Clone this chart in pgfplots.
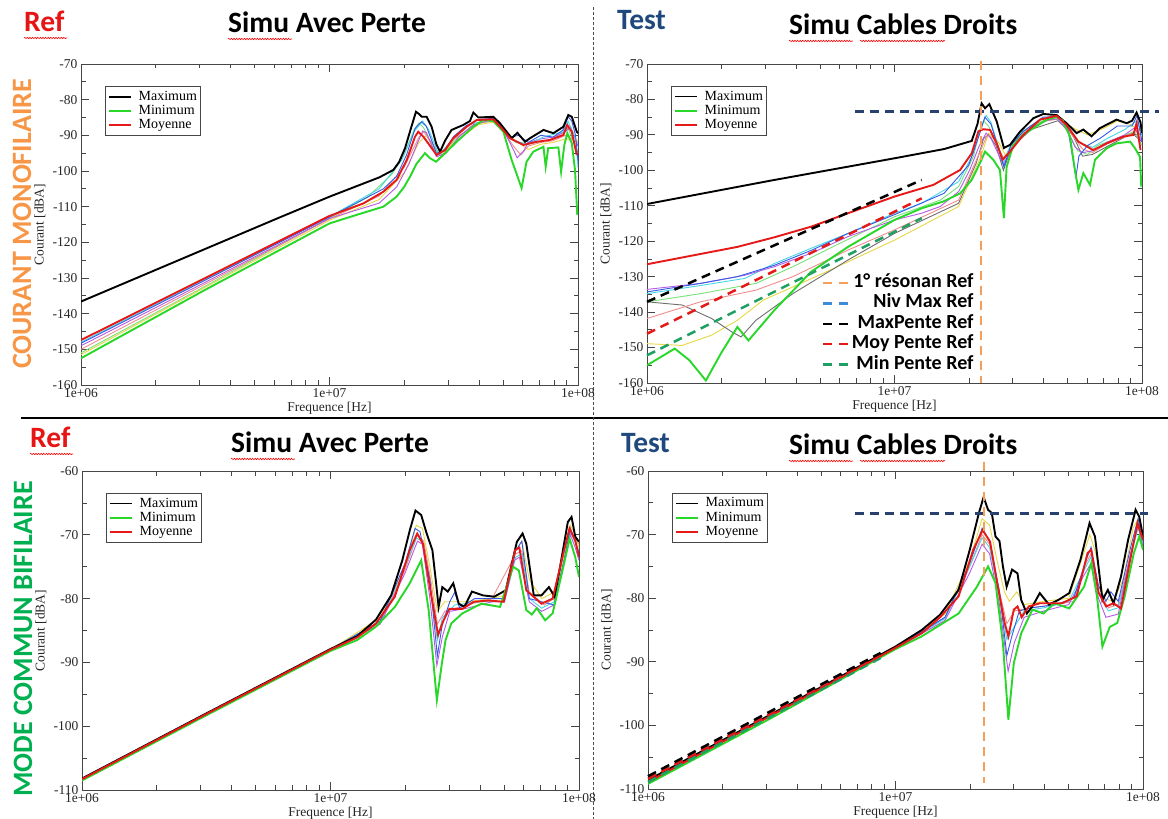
\documentclass[border=0pt]{standalone}
\usepackage{pgfplots}
\pgfplotsset{compat=1.18}
\usepackage{fontspec}
\setmainfont{Liberation Serif}
\newfontfamily\calibri{Carlito}
\usetikzlibrary{decorations.pathmorphing}

\definecolor{xgreen}{RGB}{40,215,40}
\definecolor{xred}{RGB}{230,25,25}
\definecolor{reftxt}{RGB}{230,20,20}
\definecolor{testblue}{RGB}{31,73,125}
\definecolor{orangeT}{RGB}{247,150,70}
\definecolor{greenT}{RGB}{0,176,80}
\definecolor{refor}{RGB}{245,160,90}
\definecolor{navy}{RGB}{40,65,110}
\definecolor{keyblue}{RGB}{60,140,215}
\definecolor{mingreen}{RGB}{30,160,100}
\definecolor{tblue}{RGB}{50,90,230}
\definecolor{tcyan}{RGB}{70,215,230}
\definecolor{tviolet}{RGB}{180,90,230}
\definecolor{tpink}{RGB}{240,140,140}
\definecolor{tyellow}{RGB}{230,215,70}
\definecolor{tlgreen}{RGB}{120,225,120}
\definecolor{tgray}{RGB}{110,110,110}

\pgfplotsset{
 xm/.style={
  scale only axis, width=496pt, height=320pt,
  xmin=6, xmax=8,
  xtick={6,7,8}, xticklabels={1e+06,1e+07,1e+08},
  minor xtick={6.30103,6.47712,6.60206,6.69897,6.77815,6.84510,6.90309,6.95424,7.30103,7.47712,7.60206,7.69897,7.77815,7.84510,7.90309,7.95424},
  ytick distance=10, minor y tick num=1,
  tick align=inside, xtick pos=both, ytick pos=both,
  major tick length=8pt, minor tick length=4.5pt,
  axis line style={gray!55!black, line width=0.9pt},
  every tick/.style={gray!55!black, line width=0.8pt},
  tick label style={font=\fontsize{13.5}{13.5}\selectfont, black!85},
  /pgf/number format/assume math mode=true,
  xlabel={Frequence [Hz]}, ylabel={Courant [dBA]},
  every axis x label/.style={at={(axis description cs:0.5,-0.072)}, anchor=center, font=\fontsize{13.5}{13.5}\selectfont, text=black!85},
  every axis y label/.style={at={(axis description cs:-0.083,0.5)}, rotate=90, anchor=center, font=\fontsize{13.5}{13.5}\selectfont, text=black!85},
  legend style={at={(axis description cs:0.048,0.931)}, anchor=north west,
    draw=gray!55!black, line width=0.8pt, fill=white,
    inner xsep=3pt, inner ysep=3pt, column sep=6pt,
    font=\fontsize{14}{14}\selectfont, row sep=0pt,
    nodes={text height=10pt, text depth=3pt, inner sep=0.6pt}},
  legend cell align=left,
  legend image code/.code={\draw[#1] (0pt,0pt) -- (22pt,0pt);},
  thin line/.style={line width=0.9pt},
  main/.style={line width=1.9pt},
 },
 ov/.style={scale only axis, width=496pt, height=320pt, xmin=6, xmax=8, hide axis, clip=false},
 refdash/.style={line width=2.5pt, dash pattern=on 9pt off 6pt},
}
\newcommand{\mainlegend}{%
\addlegendimage{black, line width=1.8pt}\addlegendentry{Maximum}
\addlegendimage{xgreen, line width=1.8pt}\addlegendentry{Minimum}
\addlegendimage{xred, line width=1.8pt}\addlegendentry{Moyenne}}

\begin{document}
\begin{tikzpicture}[x=1pt,y=1pt]
\useasboundingbox (0,0) rectangle (1168,819);

% separators
\draw[line width=2pt] (21,401) -- (1168,401);
\draw[gray!60!black, line width=0.8pt, dash pattern=on 3pt off 2pt] (593,812) -- (593,0);

% side labels
\node[rotate=90, text=orangeT, font=\calibri\bfseries\fontsize{28}{30}\selectfont] at (22,595) {COURANT MONOFILAIRE};
\node[rotate=90, text=greenT, font=\calibri\bfseries\fontsize{28}{30}\selectfont] at (23,180) {MODE COMMUN BIFILAIRE};

% titles
\node[anchor=base west, inner sep=0, text=reftxt, font=\calibri\bfseries\fontsize{29.5}{32}\selectfont] at (24,787) {Ref};
\node[anchor=base west, inner sep=0, font=\calibri\bfseries\fontsize{29.5}{32}\selectfont] at (228,786) {Simu Avec Perte};
\node[anchor=base west, inner sep=0, text=testblue, font=\calibri\bfseries\fontsize{29.5}{32}\selectfont] at (617,789) {Test};
\node[anchor=base west, inner sep=0, font=\calibri\bfseries\fontsize{29.5}{32}\selectfont] at (789,784) {Simu Cables Droits};
\node[anchor=base west, inner sep=0, text=reftxt, font=\calibri\bfseries\fontsize{29.5}{32}\selectfont] at (30,371) {Ref};
\node[anchor=base west, inner sep=0, font=\calibri\bfseries\fontsize{29.5}{32}\selectfont] at (231,366) {Simu Avec Perte};
\node[anchor=base west, inner sep=0, text=testblue, font=\calibri\bfseries\fontsize{29.5}{32}\selectfont] at (621,366) {Test};
\node[anchor=base west, inner sep=0, font=\calibri\bfseries\fontsize{29.5}{32}\selectfont] at (789,364) {Simu Cables Droits};

% spell-check squiggles
\begin{scope}[red, line width=0.6pt, decoration={snake, amplitude=0.7pt, segment length=2.6pt}]
\draw[decorate] (24,781) -- (67,781);
\draw[decorate] (228,780) -- (292,780);
\draw[decorate] (789,778) -- (853,778);
\draw[decorate] (860,778) -- (945,778);
\draw[decorate] (30,365) -- (73,365);
\draw[decorate] (231,360) -- (295,360);
\draw[decorate] (789,358) -- (853,358);
\draw[decorate] (860,358) -- (945,358);
\end{scope}

%================ TOP LEFT =================
\begin{axis}[xm, at={(81pt,434pt)}, anchor=south west, width=497pt, height=321pt, ymin=-160, ymax=-70]
\addplot[tlgreen, thin line, forget plot] coordinates {(6.0,-151.0)(6.5,-132.3)(7.0,-113.2)(7.15,-107.5)(7.25,-101.0)(7.30,-95.5)(7.34,-88.5)(7.36,-86.5)(7.38,-88.0)(7.42,-94.0)(7.46,-95.5)(7.5,-91.5)(7.58,-87.0)(7.66,-85.8)(7.70,-88.5)(7.75,-92.0)(7.80,-92.5)(7.9,-91.0)(7.96,-88.0)(8.0,-95.0)};
\addplot[tyellow, thin line, forget plot] coordinates {(6.0,-151.5)(6.5,-132.6)(7.0,-113.8)(7.2,-108.0)(7.3,-100.5)(7.36,-92.0)(7.39,-90.0)(7.44,-96.5)(7.5,-92.0)(7.6,-87.0)(7.66,-86.3)(7.72,-90.0)(7.76,-92.0)(7.80,-94.0)(7.85,-92.5)(7.90,-92.0)(7.95,-91.0)(8.0,-91.5)};
\addplot[tpink, thin line, forget plot] coordinates {(6.0,-150.0)(6.5,-131.7)(7.0,-113.4)(7.2,-107.0)(7.3,-99.0)(7.36,-90.5)(7.38,-89.0)(7.42,-93.0)(7.45,-96.0)(7.5,-91.0)(7.6,-86.5)(7.66,-86.0)(7.70,-89.0)(7.74,-93.0)(7.77,-95.5)(7.80,-93.0)(7.85,-92.0)(7.90,-91.5)(7.95,-90.0)(8.0,-92.0)};
\addplot[tviolet, thin line, forget plot] coordinates {(6.0,-149.0)(6.5,-131.2)(7.0,-113.3)(7.2,-109.0)(7.27,-104.5)(7.32,-98.0)(7.355,-92.0)(7.375,-88.8)(7.39,-89.2)(7.43,-96.0)(7.47,-95.0)(7.52,-90.5)(7.58,-87.0)(7.66,-85.5)(7.70,-88.5)(7.74,-94.0)(7.755,-96.3)(7.78,-94.5)(7.80,-92.0)(7.85,-91.0)(7.90,-90.5)(7.95,-89.0)(7.97,-87.5)(8.0,-93.0)};
\addplot[tcyan, thin line, forget plot] coordinates {(6.0,-148.0)(6.5,-130.4)(7.0,-112.8)(7.2,-105.0)(7.29,-97.0)(7.34,-89.0)(7.375,-86.0)(7.40,-88.5)(7.44,-95.5)(7.50,-90.8)(7.56,-87.0)(7.66,-85.3)(7.70,-88.0)(7.74,-91.5)(7.80,-92.5)(7.86,-90.5)(7.94,-89.0)(7.96,-86.0)(7.99,-91.0)(8.0,-99.0)};
\addplot[tblue, thin line, forget plot] coordinates {(6.0,-148.3)(6.5,-130.6)(7.0,-112.9)(7.217,-105.0)(7.27,-101.5)(7.31,-95.5)(7.345,-88.0)(7.37,-86.2)(7.39,-87.5)(7.43,-95.0)(7.46,-94.5)(7.50,-90.3)(7.55,-87.3)(7.60,-85.6)(7.66,-85.2)(7.69,-87.5)(7.73,-90.5)(7.76,-90.0)(7.80,-92.0)(7.85,-90.0)(7.90,-90.5)(7.94,-88.5)(7.96,-84.8)(7.975,-86.0)(7.99,-90.0)(8.0,-97.0)};
\addplot[black, main, forget plot] coordinates {(6.0,-136.6)(6.2,-130.7)(6.4,-124.8)(6.6,-118.9)(6.8,-113.0)(7.0,-107.2)(7.1,-104.5)(7.2,-101.8)(7.257,-99.7)(7.28,-97.5)(7.304,-93.6)(7.33,-87.5)(7.348,-83.4)(7.36,-84.0)(7.371,-84.8)(7.391,-84.8)(7.411,-87.6)(7.43,-92.5)(7.445,-94.6)(7.465,-91.5)(7.491,-88.5)(7.538,-87.1)(7.565,-86.0)(7.579,-83.6)(7.599,-85.0)(7.659,-84.8)(7.686,-86.6)(7.733,-90.8)(7.756,-89.3)(7.787,-91.8)(7.807,-90.8)(7.861,-88.5)(7.901,-89.4)(7.941,-87.6)(7.961,-84.3)(7.975,-84.8)(7.995,-89.0)(8.0,-89.4)};
\addplot[xgreen, main, forget plot] coordinates {(6.0,-152.5)(6.5,-133.3)(7.0,-114.7)(7.1,-112.5)(7.217,-110.0)(7.27,-107.2)(7.3,-104.5)(7.324,-101.6)(7.35,-98.0)(7.384,-95.0)(7.404,-96.4)(7.429,-97.4)(7.458,-95.5)(7.512,-91.8)(7.579,-87.6)(7.619,-85.7)(7.659,-86.0)(7.700,-89.0)(7.733,-96.9)(7.773,-104.8)(7.793,-97.4)(7.820,-94.6)(7.861,-93.2)(7.870,-98.8)(7.880,-93.6)(7.921,-93.4)(7.932,-100.2)(7.945,-92.7)(7.957,-89.4)(7.975,-92.2)(7.988,-99.7)(7.997,-112.3)};
\addplot[xred, main, forget plot] coordinates {(6.0,-147.4)(6.5,-130.0)(7.0,-112.6)(7.136,-109.1)(7.217,-105.8)(7.270,-102.5)(7.311,-96.9)(7.344,-90.4)(7.357,-89.0)(7.378,-90.4)(7.405,-93.0)(7.431,-95.5)(7.465,-94.1)(7.498,-90.8)(7.552,-87.6)(7.592,-85.7)(7.659,-85.5)(7.693,-88.0)(7.726,-90.8)(7.780,-92.7)(7.834,-91.8)(7.887,-91.3)(7.941,-89.9)(7.957,-87.1)(7.975,-89.0)(7.995,-95.5)};
\mainlegend
\end{axis}

%================ TOP RIGHT =================
\begin{axis}[xm, at={(647pt,436pt)}, anchor=south west, width=495pt, height=319pt, ymin=-160, ymax=-70]
\addplot[tyellow, thin line, forget plot] coordinates {(6.0,-148.9)(6.142,-149.4)(6.261,-146.5)(6.365,-142.3)(6.47,-136.6)(6.589,-132.9)(6.738,-128.2)(7.0,-119.7)(7.259,-110.2)(7.349,-96.1)(7.38,-89.5)(7.42,-92.0)(7.45,-96.0)(7.5,-91.0)(7.6,-86.0)(7.66,-85.0)(7.72,-88.0)(7.78,-90.0)(7.85,-88.0)(7.90,-86.0)(7.95,-87.0)(8.0,-89.0)};
\addplot[tgray, thin line, forget plot] coordinates {(6.0,-137.1)(6.142,-138.0)(6.261,-141.8)(6.343,-145.6)(6.38,-147.0)(6.44,-142.3)(6.589,-134.8)(6.812,-125.3)(7.0,-117.8)(7.259,-109.3)(7.33,-98.0)(7.36,-91.0)(7.38,-90.0)(7.41,-93.0)(7.44,-100.0)(7.47,-94.0)(7.55,-88.5)(7.66,-86.0)(7.72,-90.0)(7.76,-96.0)(7.80,-95.5)(7.88,-92.5)(7.96,-89.5)(8.0,-92.0)};
\addplot[tpink, thin line, forget plot] coordinates {(6.0,-141.8)(6.216,-137.1)(6.44,-133.8)(6.589,-130.0)(6.812,-122.5)(7.0,-116.8)(7.259,-108.4)(7.349,-94.2)(7.375,-90.0)(7.40,-91.0)(7.44,-96.5)(7.5,-91.0)(7.58,-86.5)(7.66,-85.5)(7.70,-88.5)(7.76,-94.0)(7.80,-95.0)(7.86,-92.5)(7.93,-90.5)(7.98,-88.5)(8.0,-91.0)};
\addplot[tlgreen, thin line, forget plot] coordinates {(6.0,-137.1)(6.216,-134.8)(6.44,-131.9)(6.589,-127.2)(6.738,-122.0)(7.0,-113.1)(7.185,-108.4)(7.259,-104.6)(7.319,-96.1)(7.345,-88.5)(7.36,-86.0)(7.38,-87.5)(7.44,-97.0)(7.48,-92.0)(7.55,-87.5)(7.62,-85.5)(7.66,-85.5)(7.70,-89.0)(7.74,-94.5)(7.78,-95.5)(7.82,-93.0)(7.9,-91.0)(7.97,-89.0)(8.0,-93.0)};
\addplot[tcyan, thin line, forget plot] coordinates {(6.0,-134.8)(6.216,-132.5)(6.395,-130.5)(6.514,-126.3)(6.663,-122.0)(6.812,-117.8)(7.0,-112.1)(7.11,-109.3)(7.259,-103.2)(7.319,-95.2)(7.349,-88.0)(7.37,-84.5)(7.39,-86.5)(7.44,-98.0)(7.47,-92.5)(7.52,-89.0)(7.6,-85.3)(7.66,-85.0)(7.70,-87.5)(7.74,-92.0)(7.80,-93.5)(7.86,-91.0)(7.93,-88.5)(7.98,-86.0)(8.0,-90.0)};
\addplot[tviolet, thin line, forget plot] coordinates {(6.0,-133.6)(6.216,-131.9)(6.395,-129.6)(6.514,-127.2)(6.663,-123.4)(6.812,-118.7)(7.0,-114.0)(7.11,-112.1)(7.185,-110.2)(7.259,-106.0)(7.304,-99.9)(7.341,-93.3)(7.37,-89.5)(7.39,-91.0)(7.44,-98.5)(7.48,-93.0)(7.55,-88.0)(7.62,-85.8)(7.66,-85.5)(7.70,-89.0)(7.73,-93.5)(7.76,-95.0)(7.80,-94.5)(7.86,-92.0)(7.93,-90.0)(7.97,-88.0)(8.0,-92.0)};
\addplot[tblue, thin line, forget plot] coordinates {(6.0,-134.3)(6.216,-131.9)(6.365,-130.0)(6.514,-126.8)(6.663,-122.6)(6.812,-117.8)(7.0,-112.5)(7.2,-106.5)(7.3,-98.5)(7.345,-89.5)(7.365,-85.0)(7.39,-87.0)(7.442,-99.0)(7.47,-93.0)(7.52,-89.0)(7.60,-85.0)(7.66,-84.8)(7.70,-88.0)(7.733,-102.0)(7.745,-96.0)(7.78,-93.0)(7.83,-91.0)(7.90,-87.5)(7.96,-87.5)(7.98,-84.5)(8.0,-92.0)};
\addplot[black, main, forget plot] coordinates {(6.0,-109.5)(6.5,-102.9)(7.0,-96.6)(7.2,-94.0)(7.312,-91.7)(7.335,-87.0)(7.352,-81.1)(7.366,-82.5)(7.383,-81.3)(7.413,-86.2)(7.442,-93.7)(7.467,-92.8)(7.507,-89.1)(7.561,-85.3)(7.601,-84.1)(7.655,-84.4)(7.695,-86.7)(7.736,-89.5)(7.763,-88.5)(7.796,-90.4)(7.830,-88.1)(7.897,-85.7)(7.938,-86.7)(7.96,-86.0)(7.978,-83.7)(7.994,-86.5)(8.0,-89.5)};
\addplot[xgreen, main, forget plot] coordinates {(6.0,-155.0)(6.112,-150.3)(6.17,-153.5)(6.238,-159.3)(6.30,-151.5)(6.365,-144.2)(6.41,-148.0)(6.514,-139.5)(6.663,-128.6)(6.812,-121.6)(7.0,-114.0)(7.11,-110.7)(7.197,-108.8)(7.265,-106.5)(7.312,-102.7)(7.345,-98.0)(7.366,-94.7)(7.379,-95.6)(7.399,-97.0)(7.426,-99.9)(7.442,-113.5)(7.453,-99.0)(7.480,-92.9)(7.520,-90.0)(7.561,-88.1)(7.615,-85.7)(7.655,-84.9)(7.68,-86.0)(7.709,-90.5)(7.729,-99.9)(7.743,-105.5)(7.763,-100.8)(7.790,-104.1)(7.810,-97.0)(7.857,-93.8)(7.897,-92.4)(7.952,-91.9)(7.972,-93.8)(7.992,-96.2)(7.997,-104.6)};
\addplot[xred, main, forget plot] coordinates {(6.0,-126.5)(6.216,-123.6)(6.365,-121.6)(6.514,-118.9)(6.663,-115.9)(6.812,-112.1)(7.0,-107.4)(7.157,-104.1)(7.265,-99.9)(7.312,-95.2)(7.339,-89.0)(7.359,-88.4)(7.386,-88.6)(7.413,-92.4)(7.437,-97.0)(7.467,-94.7)(7.520,-90.0)(7.588,-85.7)(7.655,-84.6)(7.695,-87.2)(7.743,-91.9)(7.803,-94.3)(7.857,-92.4)(7.924,-90.5)(7.965,-90.0)(7.978,-86.7)(7.994,-94.3)};
\mainlegend
\end{axis}
% reference lines and their key (top right)
\begin{axis}[ov, at={(647pt,436pt)}, anchor=south west, width=495pt, height=319pt, ymin=-160, ymax=-70,
  legend style={at={(axis cs:7.335,-128.3)}, anchor=north east, draw=none, fill=none,
    font=\calibri\bfseries\fontsize{20}{20}\selectfont, row sep=0pt,
    nodes={text height=14pt, text depth=5pt, inner sep=0.7pt}},
  legend cell align=right,
  legend image code/.code={\draw[#1, line width=2.5pt, dash pattern=on 9pt off 7pt] (0pt,0pt) -- (27pt,0pt);}]
\addplot[black, refdash, forget plot] coordinates {(6.0,-137.1)(7.11,-102.7)};
\addplot[xred, refdash, forget plot] coordinates {(6.0,-146.1)(7.11,-107.9)};
\addplot[mingreen, refdash, forget plot] coordinates {(6.0,-152.2)(7.11,-113.5)};
\addplot[navy, refdash, forget plot] coordinates {(6.84,-83.4)(8.07,-83.4)};
\addplot[refor, refdash, forget plot] coordinates {(7.349,-69.2)(7.349,-160)};
\addlegendimage{refor}
\addlegendentry{1° résonan Ref}
\addlegendimage{keyblue}
\addlegendentry{Niv Max Ref}
\addlegendimage{black}
\addlegendentry{MaxPente Ref}
\addlegendimage{xred}
\addlegendentry{Moy Pente Ref}
\addlegendimage{mingreen}
\addlegendentry{Min Pente Ref}
\end{axis}

%================ BOTTOM LEFT =================
\begin{axis}[xm, at={(82pt,29pt)}, anchor=south west, width=497pt, height=319pt, ymin=-110, ymax=-60]
\addplot[tpink, thin line, forget plot] coordinates {(6,-108.3)(7,-88.0)(7.2,-83.8)(7.3,-75.5)(7.35,-70.0)(7.375,-71.0)(7.405,-77.5)(7.43,-84.0)(7.46,-82.0)(7.55,-81.0)(7.65,-80.0)(7.745,-73.0)(7.77,-72.5)(7.80,-79.0)(7.86,-81.0)(7.9,-80.0)(7.95,-71.0)(7.97,-69.5)(8.0,-71.5)};
\addplot[tcyan, thin line, forget plot] coordinates {(6,-108.3)(7,-88.0)(7.2,-83.6)(7.3,-75.0)(7.345,-70.5)(7.37,-71.0)(7.40,-78.0)(7.43,-86.5)(7.45,-83.0)(7.5,-81.0)(7.6,-80.5)(7.7,-80.5)(7.745,-73.5)(7.77,-73.0)(7.8,-80.0)(7.85,-81.5)(7.9,-80.5)(7.94,-74.0)(7.965,-69.5)(8.0,-72.5)};
\addplot[tyellow, thin line, forget plot] coordinates {(6,-108.3)(7,-88.0)(7.2,-83.0)(7.3,-75.0)(7.345,-68.5)(7.37,-69.0)(7.40,-75.0)(7.43,-82.0)(7.46,-80.5)(7.50,-80.5)(7.55,-80.5)(7.65,-80.0)(7.70,-79.5)(7.745,-72.5)(7.77,-71.0)(7.80,-77.0)(7.85,-80.0)(7.90,-79.0)(7.94,-73.0)(7.965,-68.5)(7.985,-70.0)(8.0,-72.0)};
\addplot[tviolet, thin line, forget plot] coordinates {(6,-108.4)(7,-88.1)(7.2,-84.0)(7.3,-76.0)(7.35,-71.0)(7.37,-71.5)(7.40,-80.0)(7.428,-90.5)(7.45,-86.0)(7.48,-82.0)(7.55,-81.5)(7.65,-80.5)(7.70,-80.5)(7.74,-74.0)(7.76,-73.5)(7.80,-80.5)(7.85,-82.0)(7.90,-81.0)(7.94,-74.0)(7.965,-70.0)(7.985,-72.0)(8.0,-74.0)};
\addplot[tblue, thin line, forget plot] coordinates {(6,-108.3)(7,-88.0)(7.2,-83.5)(7.3,-74.5)(7.34,-69.0)(7.36,-69.5)(7.40,-77.0)(7.43,-89.0)(7.45,-84.0)(7.48,-80.5)(7.50,-79.0)(7.52,-81.5)(7.58,-80.0)(7.66,-80.0)(7.70,-80.0)(7.745,-72.5)(7.77,-71.0)(7.80,-80.0)(7.85,-80.5)(7.90,-81.0)(7.94,-74.0)(7.965,-69.0)(7.985,-71.0)(8.0,-73.0)};
\addplot[black, main, forget plot] coordinates {(6.0,-108.2)(6.5,-98.0)(7.0,-87.9)(7.107,-85.9)(7.183,-83.3)(7.244,-79.5)(7.289,-74.0)(7.319,-69.3)(7.342,-66.2)(7.365,-66.9)(7.387,-69.8)(7.41,-72.4)(7.425,-77.6)(7.435,-81.3)(7.45,-78.2)(7.472,-78.9)(7.494,-77.6)(7.516,-80.8)(7.539,-81.3)(7.569,-78.9)(7.614,-79.5)(7.659,-79.7)(7.705,-78.7)(7.75,-71.1)(7.773,-69.8)(7.788,-71.4)(7.818,-79.5)(7.849,-79.5)(7.879,-78.2)(7.902,-79.7)(7.924,-75.0)(7.955,-68.0)(7.97,-67.2)(7.985,-70.3)(8.0,-71.1)};
\addplot[xgreen, main, forget plot] coordinates {(6.0,-108.5)(6.5,-98.3)(7.0,-88.2)(7.107,-86.5)(7.183,-84.4)(7.259,-81.3)(7.319,-77.6)(7.365,-74.0)(7.395,-81.8)(7.428,-95.9)(7.448,-90.2)(7.463,-86.5)(7.486,-83.9)(7.531,-82.3)(7.607,-80.8)(7.682,-81.3)(7.735,-75.0)(7.758,-75.6)(7.788,-81.8)(7.81,-82.5)(7.83,-81.5)(7.864,-83.4)(7.894,-82.3)(7.94,-74.5)(7.962,-70.6)(7.985,-73.5)(8.0,-76.6)};
\addplot[xred, main, forget plot] coordinates {(6.0,-108.3)(6.5,-98.1)(7.0,-88.0)(7.107,-86.1)(7.183,-83.9)(7.259,-79.7)(7.319,-72.4)(7.349,-69.8)(7.372,-71.4)(7.402,-78.7)(7.433,-85.7)(7.455,-83.4)(7.478,-81.6)(7.531,-81.6)(7.576,-80.5)(7.637,-80.3)(7.697,-80.5)(7.743,-72.4)(7.760,-72.0)(7.788,-78.7)(7.849,-80.8)(7.894,-80.0)(7.94,-72.4)(7.962,-69.0)(7.985,-70.9)(8.0,-73.5)};
\mainlegend
\end{axis}

%================ BOTTOM RIGHT =================
\begin{axis}[xm, at={(648pt,30pt)}, anchor=south west, width=495pt, height=318pt, ymin=-110, ymax=-60]
\addplot[tpink, thin line, forget plot] coordinates {(6,-108.8)(7,-87.8)(7.2,-83.0)(7.3,-75.0)(7.35,-70.0)(7.38,-71.5)(7.42,-79.0)(7.45,-84.0)(7.48,-82.0)(7.55,-81.5)(7.65,-81.0)(7.72,-80.5)(7.77,-74.5)(7.79,-73.0)(7.82,-79.0)(7.86,-81.5)(7.9,-81.0)(7.95,-73.0)(7.98,-68.5)(8.0,-71.0)};
\addplot[tcyan, thin line, forget plot] coordinates {(6,-108.9)(7,-87.9)(7.2,-83.2)(7.3,-75.0)(7.35,-70.5)(7.38,-72.0)(7.42,-80.0)(7.45,-86.5)(7.48,-84.5)(7.52,-82.0)(7.6,-81.5)(7.7,-80.5)(7.77,-75.0)(7.79,-73.5)(7.82,-79.0)(7.86,-82.0)(7.9,-81.5)(7.95,-73.5)(7.98,-69.0)(8.0,-71.5)};
\addplot[tyellow, thin line, forget plot] coordinates {(6,-108.8)(7,-87.8)(7.2,-82.5)(7.3,-74.0)(7.35,-67.5)(7.38,-68.5)(7.41,-74.0)(7.44,-79.0)(7.46,-80.5)(7.49,-79.0)(7.52,-81.0)(7.6,-80.5)(7.7,-80.0)(7.76,-73.0)(7.785,-70.0)(7.81,-73.0)(7.84,-80.0)(7.88,-80.5)(7.92,-77.0)(7.96,-69.0)(7.98,-67.5)(8.0,-70.0)};
\addplot[tviolet, thin line, forget plot] coordinates {(6,-108.9)(7,-87.9)(7.2,-83.5)(7.3,-76.0)(7.35,-71.5)(7.38,-73.0)(7.42,-81.0)(7.455,-91.5)(7.48,-87.0)(7.52,-83.0)(7.6,-82.0)(7.7,-81.0)(7.76,-76.5)(7.79,-74.5)(7.82,-80.0)(7.85,-83.0)(7.9,-82.5)(7.95,-73.0)(7.98,-68.5)(8.0,-72.0)};
\addplot[tblue, thin line, forget plot] coordinates {(6,-108.8)(7,-87.8)(7.2,-83.0)(7.3,-74.5)(7.35,-69.0)(7.38,-71.0)(7.42,-79.0)(7.45,-89.0)(7.47,-86.0)(7.50,-82.0)(7.55,-81.5)(7.65,-81.0)(7.72,-80.0)(7.77,-74.0)(7.79,-72.0)(7.82,-78.0)(7.85,-80.5)(7.87,-79.0)(7.9,-80.5)(7.95,-72.0)(7.98,-67.5)(8.0,-71.0)};
\addplot[black, main, forget plot] coordinates {(6.0,-108.6)(6.5,-98.2)(7.0,-87.6)(7.106,-85.0)(7.180,-82.6)(7.255,-78.7)(7.300,-72.4)(7.337,-66.6)(7.356,-64.1)(7.374,-66.1)(7.389,-66.6)(7.404,-70.3)(7.42,-71.0)(7.434,-75.0)(7.449,-78.2)(7.471,-75.5)(7.493,-76.1)(7.508,-80.3)(7.531,-82.4)(7.553,-81.3)(7.583,-79.2)(7.620,-81.0)(7.657,-80.3)(7.702,-79.2)(7.747,-74.0)(7.784,-68.2)(7.806,-70.3)(7.836,-80.3)(7.858,-78.7)(7.881,-80.8)(7.911,-76.6)(7.940,-70.8)(7.970,-66.1)(7.985,-67.2)(8.0,-70.3)};
\addplot[xgreen, main, forget plot] coordinates {(6.0,-109.2)(6.5,-98.8)(7.0,-88.0)(7.106,-86.0)(7.255,-82.4)(7.329,-78.2)(7.374,-75.0)(7.404,-77.6)(7.434,-87.1)(7.456,-99.1)(7.478,-90.2)(7.508,-85.5)(7.553,-81.8)(7.598,-82.4)(7.642,-80.8)(7.702,-81.6)(7.762,-78.2)(7.791,-74.5)(7.814,-79.7)(7.836,-87.6)(7.866,-84.5)(7.896,-83.9)(7.926,-79.7)(7.963,-72.9)(7.985,-70.3)(8.0,-72.4)};
\addplot[xred, main, forget plot] coordinates {(6.0,-108.9)(6.5,-98.4)(7.0,-87.8)(7.106,-85.5)(7.18,-83.0)(7.255,-79.7)(7.314,-72.4)(7.352,-69.3)(7.382,-71.1)(7.411,-77.6)(7.441,-83.9)(7.456,-86.0)(7.478,-81.8)(7.493,-81.3)(7.51,-83.0)(7.538,-81.3)(7.583,-80.8)(7.672,-80.8)(7.732,-79.7)(7.776,-72.9)(7.791,-72.4)(7.821,-79.2)(7.851,-81.3)(7.881,-80.8)(7.911,-81.6)(7.948,-74.0)(7.978,-68.2)(8.0,-70.8)};
\mainlegend
\end{axis}
% reference lines (bottom right)
\begin{axis}[ov, at={(648pt,30pt)}, anchor=south west, width=495pt, height=318pt, ymin=-110, ymax=-60]
\addplot[mingreen, refdash, forget plot] coordinates {(6.0,-108.9)(6.94,-89.4)};
\addplot[xred, refdash, forget plot] coordinates {(6.0,-108.4)(6.94,-89.0)};
\addplot[black, refdash, forget plot] coordinates {(6.0,-108.0)(6.94,-88.6)};
\addplot[navy, refdash, forget plot] coordinates {(6.836,-66.7)(8.02,-66.7)};
\addplot[refor, refdash, forget plot] coordinates {(7.358,-58.6)(7.358,-109.0)};
\end{axis}
\end{tikzpicture}
\end{document}
